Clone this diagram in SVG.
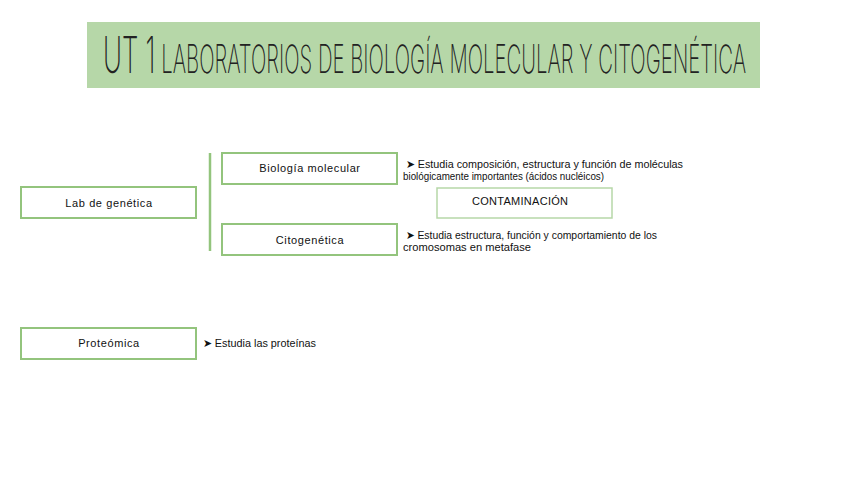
<svg xmlns="http://www.w3.org/2000/svg" width="848" height="477" viewBox="0 0 848 477">
  <style>
    .box { fill: #ffffff; stroke: #93c47d; stroke-width: 2; }
    .box2 { fill: #ffffff; stroke: #b6d7a8; stroke-width: 1.5; }
    .lbl { font-family: "Liberation Sans", Arial, sans-serif; font-size: 11px; fill: #111; text-anchor: middle; letter-spacing: 0.6px; }
    .desc { font-family: "Liberation Sans", Arial, sans-serif; font-size: 11px; fill: #111; }
    .conn { stroke: #93c47d; stroke-width: 2.5; fill: none; }
    .ttl { font-family: Inter, "Liberation Sans Narrow", sans-serif; font-weight: 250; fill: #222; }
  </style>
  <rect width="848" height="477" fill="#ffffff"/>
  <g id="title">
    <rect x="87" y="22" width="673" height="66" fill="#b6d7a8"/>
    <text class="ttl" x="0" y="0" transform="translate(103,73) scale(0.522,1)"><tspan font-size="50">UT</tspan><tspan font-size="50" dx="14">1</tspan><tspan font-size="39"> LABORATORIOS DE BIOLOGÍA MOLECULAR Y CITOGENÉTICA</tspan></text>
  </g>
  <g id="connectors">
    <line class="conn" x1="210" y1="153" x2="210" y2="251"/>
  </g>
  <g id="lab">
    <rect class="box" x="21" y="187" width="175" height="31"/>
    <text class="lbl" x="109" y="207">Lab de genética</text>
  </g>
  <g id="biologia">
    <rect class="box" x="222" y="153" width="175" height="31"/>
    <text class="lbl" x="310" y="172">Biología  molecular</text>
  </g>
  <g id="citogenetica">
    <rect class="box" x="222" y="224" width="175" height="31"/>
    <text class="lbl" x="310" y="244">Citogenética</text>
  </g>
  <g id="contaminacion">
    <rect class="box2" x="437" y="188" width="175" height="30"/>
    <text class="lbl" x="520" y="205" style="letter-spacing:0px" textLength="96">CONTAMINACIÓN</text>
  </g>
  <g id="proteomica">
    <rect class="box" x="21" y="328" width="175" height="31"/>
    <text class="lbl" x="109" y="347">Proteómica</text>
  </g>
  <g id="desc-biologia">
    <text class="desc" x="406" y="168" textLength="277" lengthAdjust="spacingAndGlyphs">➤ Estudia composición, estructura y función de moléculas</text>
    <text class="desc" x="403" y="180" textLength="201" lengthAdjust="spacingAndGlyphs">biológicamente importantes (ácidos nucléicos)</text>
  </g>
  <g id="desc-citogenetica">
    <text class="desc" x="406" y="239" textLength="251" lengthAdjust="spacingAndGlyphs">➤ Estudia estructura, función y comportamiento de los</text>
    <text class="desc" x="403" y="251" textLength="128" lengthAdjust="spacingAndGlyphs">cromosomas en metafase</text>
  </g>
  <g id="desc-proteomica">
    <text class="desc" x="203" y="347" textLength="113" lengthAdjust="spacingAndGlyphs">➤ Estudia las proteínas</text>
  </g>
</svg>
